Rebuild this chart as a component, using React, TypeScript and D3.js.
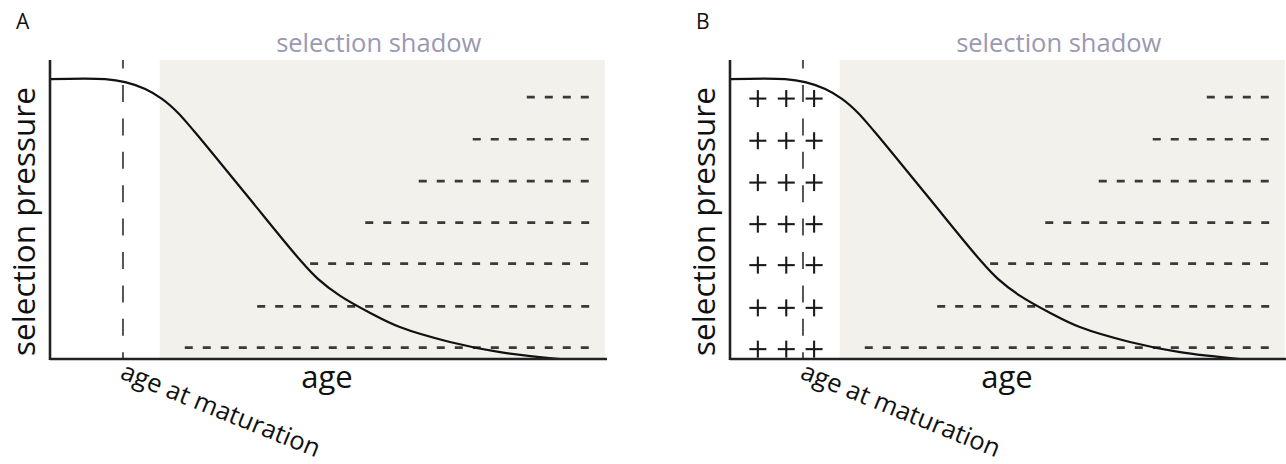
import { FC } from "react"
import * as d3 from "d3"

// curve: selection pressure against age (0..100 units on both axes)
const curveAge = [0, 9.9, 13.5, 17.1, 20.1, 23.0, 26.0, 35.0, 44.9, 48.1, 52.1, 57.5, 62.8, 71.8, 80.8, 91.6]
const curvePressure = [93.6, 93.6, 92.6, 90.3, 87.0, 82.3, 75.9, 55.5, 33.1, 26.8, 21.1, 15.4, 10.7, 5.7, 2.3, 0]

// dashed rows (mutations accumulating in the selection shadow)
const dashRowPressure = [87.6, 73.5, 59.5, 45.6, 31.9, 17.6, 3.8]
const dashRowStart = [85.6, 75.9, 66.2, 56.6, 46.7, 37.2, 24.2]
const dashRowEnd = 96.8

// plus marks in panel B
const plusAges = [5.0, 10.1, 15.1]

const maturationAge = 13.1
const shadowStart = 19.7
const shadowEnd = 99.6

const panelLabels = ["A", "B"]
const panelOffsets = [0, 680]

const FONT = "'Open Sans', 'Noto Sans', sans-serif"

interface IPanel {
    label: string
    dx: number
    showPlus: boolean
}

const Panel: FC<IPanel> = ({ label, dx, showPlus }) => {
    const xScale = d3.scaleLinear().domain([0, 100]).range([50, 607])
    const yScale = d3.scaleLinear().domain([0, 100]).range([359, 60])

    const line = d3.line<number>()
        .x((_, i) => xScale(curveAge[i]))
        .y((d) => yScale(d))
        .curve(d3.curveCatmullRom.alpha(0.5))

    const x0 = xScale(0)
    const y0 = yScale(0)
    const top = yScale(100)
    const shadowMid = (xScale(shadowStart) + xScale(shadowEnd)) / 2

    return (
        <g transform={`translate(${dx},0)`}>
            <text x={16} y={29} fontSize={21} fontFamily={FONT} fill="#111">{label}</text>
            {/* selection shadow area */}
            <rect x={xScale(shadowStart)} y={top} width={xScale(shadowEnd) - xScale(shadowStart)} height={y0 - top} fill="#f3f1ec" />
            <text x={shadowMid - 3.5} y={52} textAnchor="middle" fontSize={25.5} fontFamily={FONT} fill="#9b98b2">selection shadow</text>
            {/* dashed rows */}
            {dashRowPressure.map((p, i) => (
                <line key={i} x1={xScale(dashRowStart[i])} x2={xScale(dashRowEnd)} y1={yScale(p)} y2={yScale(p)}
                    stroke="#3a3a3a" strokeWidth={2.6} strokeDasharray="8 10" />
            ))}
            {/* plus marks */}
            {showPlus && dashRowPressure.map((p, i) => plusAges.map((a, j) => {
                const cx = xScale(a)
                const cy = yScale(p) + 1.5
                return (
                    <g key={`${i}-${j}`} stroke="#1a1a1a" strokeWidth={2.1}>
                        <line x1={cx - 8.5} x2={cx + 8.5} y1={cy} y2={cy} />
                        <line x1={cx} x2={cx} y1={cy - 8.5} y2={cy + 8.5} />
                    </g>
                )
            }))}
            {/* age at maturation */}
            <line x1={xScale(maturationAge)} x2={xScale(maturationAge)} y1={top} y2={y0}
                stroke="#555" strokeWidth={2} strokeDasharray="17 16.4" strokeDashoffset={8.4} />
            {/* curve */}
            <path d={line(curvePressure) || ""} fill="none" stroke="#111" strokeWidth={2.2} />
            {/* axes */}
            <line x1={x0} x2={x0} y1={top} y2={y0 + 1} stroke="#222" strokeWidth={2.6} />
            <line x1={x0} x2={xScale(100)} y1={y0} y2={y0} stroke="#222" strokeWidth={2.6} />
            <text transform={`translate(35,${(top + y0) / 2 + 12}) rotate(-90)`} textAnchor="middle" fontSize={31.5} fontFamily={FONT} fill="#111">selection pressure</text>
            <text x={327} y={388} textAnchor="middle" fontSize={31} fontFamily={FONT} fill="#111">age</text>
            <text transform={`translate(${xScale(maturationAge) - 4},378) rotate(22)`} fontSize={25.5} fontFamily={FONT} fill="#111">age at maturation</text>
        </g>
    )
}

export default function App() {
    return (
        <svg width={1286} height={464} style={{ position: "absolute", left: 0, top: 0, background: "#fff" }}>
            {panelLabels.map((l, i) => (
                <Panel key={l} label={l} dx={panelOffsets[i]} showPlus={i === 1} />
            ))}
        </svg>
    )
}
